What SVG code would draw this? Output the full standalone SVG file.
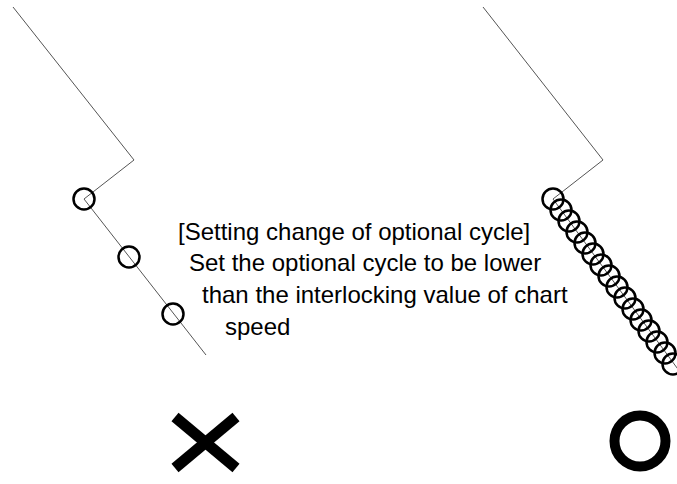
<svg xmlns="http://www.w3.org/2000/svg" width="677" height="484" viewBox="0 0 677 484">
<style>
.path{fill:none;stroke:#555;stroke-width:1}
.c{fill:none;stroke:#000;stroke-width:2.5}
.t{font-family:"Liberation Sans",Arial,sans-serif;font-size:24px;fill:#000}
</style>
<rect width="677" height="484" fill="#fff"/>
<g id="left-chart">
<polyline class="path" points="13,7 134,160 84,199 206,355"/>
<circle class="c" cx="84" cy="199" r="10.5"/>
<circle class="c" cx="129" cy="257" r="10.5"/>
<circle class="c" cx="173" cy="314" r="10.5"/>
</g>
<g id="right-chart">
<polyline class="path" points="483,7 603,160 553,199 680,372"/>
<g id="right-circles">
<circle class="c" cx="553" cy="199" r="10.5"/>
<circle class="c" cx="561" cy="210" r="10.5"/>
<circle class="c" cx="569" cy="221" r="10.5"/>
<circle class="c" cx="577" cy="232" r="10.5"/>
<circle class="c" cx="585" cy="243" r="10.5"/>
<circle class="c" cx="593" cy="254" r="10.5"/>
<circle class="c" cx="601" cy="265" r="10.5"/>
<circle class="c" cx="609" cy="276" r="10.5"/>
<circle class="c" cx="617" cy="287" r="10.5"/>
<circle class="c" cx="625" cy="298" r="10.5"/>
<circle class="c" cx="633" cy="309" r="10.5"/>
<circle class="c" cx="641" cy="320" r="10.5"/>
<circle class="c" cx="649" cy="331" r="10.5"/>
<circle class="c" cx="657" cy="342" r="10.5"/>
<circle class="c" cx="665" cy="353" r="10.5"/>
<circle class="c" cx="673" cy="364" r="10.5"/>
</g>
</g>
<g id="caption">
<text class="t" x="178" y="240">[Setting change of optional cycle]</text>
<text class="t" x="189" y="271">Set the optional cycle to be lower</text>
<text class="t" x="202" y="303">than the interlocking value of chart</text>
<text class="t" x="225" y="335">speed</text>
</g>
<g id="mark-x">
<line x1="175" y1="417" x2="236" y2="468" stroke="#000" stroke-width="11"/>
<line x1="236" y1="417" x2="175" y2="468" stroke="#000" stroke-width="11"/>
</g>
<g id="mark-o">
<circle cx="640" cy="441" r="25.5" fill="none" stroke="#000" stroke-width="10"/>
</g>
</svg>
